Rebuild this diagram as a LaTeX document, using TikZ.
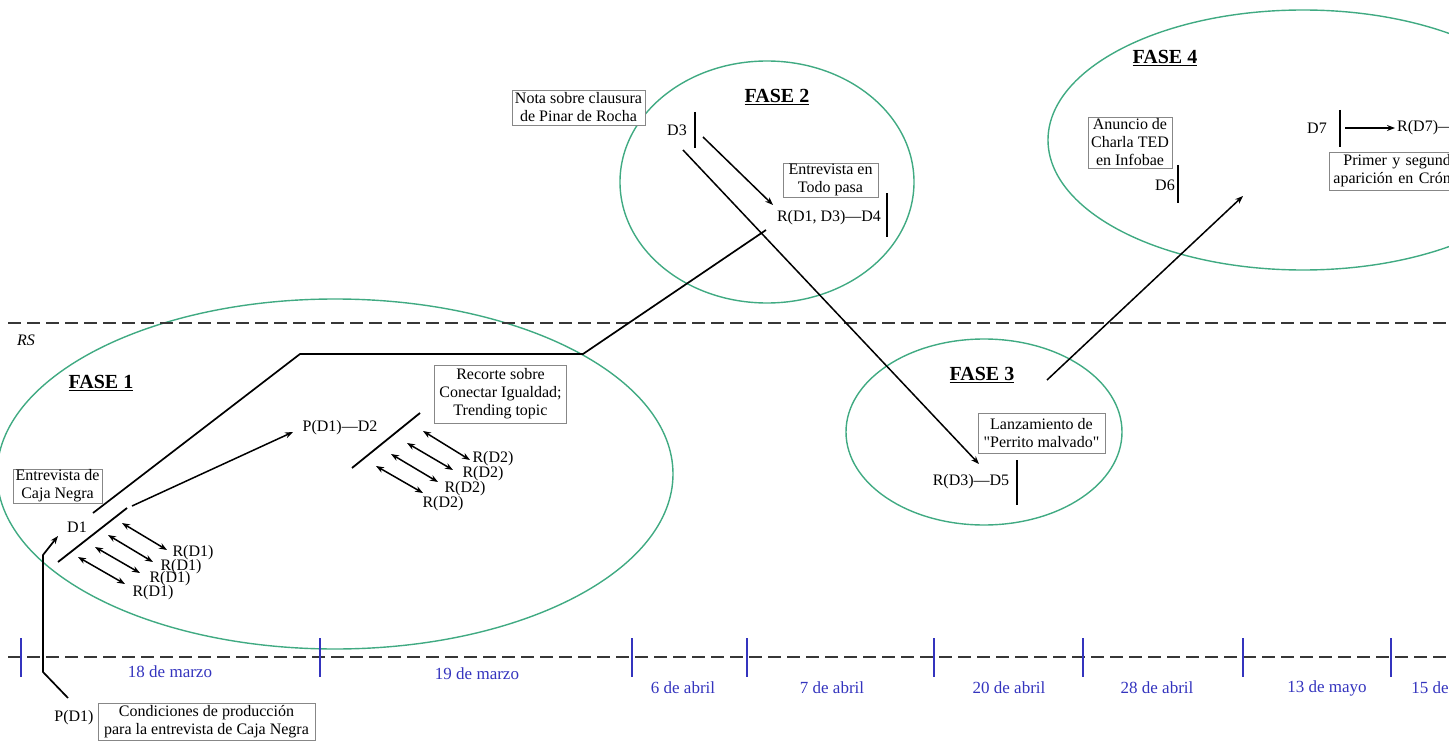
\documentclass[tikz,border=0pt]{standalone}
\usepackage{fontspec}
\setmainfont{Liberation Serif}[Ligatures=TeXOff]
\usetikzlibrary{shapes.geometric,arrows.meta}

\definecolor{faseGreen}{RGB}{64,170,130}
\definecolor{dateBlue}{RGB}{52,52,190}
\definecolor{boxGray}{RGB}{135,135,135}
\definecolor{axisGray}{RGB}{55,55,55}
\newcommand{\figfont}{\fontsize{16}{18}\selectfont}

\begin{document}
\begin{tikzpicture}
[x=1pt,y=-1pt,
  faseEllipse/.style={shape=ellipse,draw=faseGreen,line width=1.4pt,inner sep=0pt},%
  faseTitle/.style={inner sep=0pt,font=\bfseries\fontsize{20}{24}\selectfont},%
  textBox/.style={shape=rectangle,draw=boxGray,line width=0.9pt,fill=white,align=center,inner sep=0pt,font=\figfont},%
  plainLabel/.style={inner sep=0pt,font=\figfont},%
  dateLabel/.style={inner sep=0pt,text=dateBlue,font=\fontsize{17}{19}\selectfont},%
  axisDashed/.style={draw=axisGray,line width=1.8pt,dash pattern=on 13pt off 6pt},%
  tickMark/.style={draw=dateBlue,line width=1.6pt},%
  barDecorate/.style={-,line width=1.8pt},%
  lineDecorate/.style={-,line width=1.7pt},%
  arrowDecorate/.style={-{Stealth[length=8pt,width=6pt]},line width=1.5pt},%
  bothDecorate/.style={{Stealth[length=8pt,width=6pt]}-{Stealth[length=8pt,width=6pt]},line width=1.5pt}]
\useasboundingbox (0,0) rectangle (1449,741);
\clip (0,0) rectangle (1449,741);
%% phases
\node (faseOne) at (335,474) [faseEllipse,minimum width=676,minimum height=350] {};
\node (faseTwo) at (767,182) [faseEllipse,minimum width=294,minimum height=242] {};
\node (faseThree) at (984,432) [faseEllipse,minimum width=276,minimum height=186] {};
\node (faseFour) at (1303,140) [faseEllipse,minimum width=510,minimum height=260] {};
\foreach \nodename/\x/\y/\num in {titleOne/101/383/1, titleTwo/777/97/2,
  titleThree/982/375/3, titleFour/1165/58/4}
{
  \node (\nodename) at (\x,\y) [faseTitle] {\underline{FASE \num}};
}
%% time axis and RS line
\draw[axisDashed] (8,323) -- (1449,323);
\draw[axisDashed] (8,657) -- (1449,657);
\node (rs) at (26,340) [plainLabel] {\textit{RS}};
\foreach \x in {21,320,632,747,934,1083,1243,1391}
{
  \draw[tickMark] (\x,638) -- (\x,677);
}
\foreach \nodename/\x/\y/\txt in {dayA/170/672/18 de marzo, dayB/477/674/19 de marzo,
  dayC/683/688/6 de abril, dayD/832/688/7 de abril, dayE/1009/688/20 de abril,
  dayF/1157/688/28 de abril, dayG/1327/688/13 de mayo, dayH/1430/688/15 de}
{
  \node (\nodename) at (\x,\y) [dateLabel] {\txt};
}
%% boxes
\node (boxCaja) at (57.5,486) [textBox,minimum width=89,minimum height=34] {Entrevista de\\Caja Negra};
\node (boxRecorte) at (500.5,394) [textBox,minimum width=132,minimum height=58] {Recorte sobre\\Conectar Igualdad;\\Trending topic};
\node (boxNota) at (578.5,107.5) [textBox,minimum width=133,minimum height=35] {Nota sobre clausura\\de Pinar de Rocha};
\node (boxTodo) at (830.5,180) [textBox,minimum width=95,minimum height=34] {Entrevista en\\Todo pasa};
\node (boxPerrito) at (1041.5,433) [textBox,minimum width=127,minimum height=40] {Lanzamiento de\\"Perrito malvado"};
\node (boxAnuncio) at (1130,142.5) [textBox,minimum width=84,minimum height=51] {Anuncio de\\Charla TED\\en Infobae};
\node (boxPrimer) at (1329,171) [textBox,anchor=west,text width=190,minimum height=38,align=left,inner xsep=4pt] {\hspace*{10pt}Primer y segund\\aparición en Crón};
\node (boxCondiciones) at (206.5,721.5) [textBox,minimum width=217,minimum height=37] {Condiciones de producción\\para la entrevista de Caja Negra};
%% labels
\foreach \nodename/\x/\y/\txt in {done/77/527/D1,
  rdOne/193/553/R(D1), rdTwo/181/567/R(D1), rdThree/170/579/R(D1), rdFour/153/593/R(D1),
  pdd/340/428/P(D1)—D2,
  rtOne/493/459/R(D2), rtTwo/483/474/R(D2), rtThree/465/489/R(D2), rtFour/443/504/R(D2),
  dthree/677/130/D3, rdfive/971/482/R(D3)—D5, dsix/1165/185/D6, dseven/1317/128/D7,
  pdone/74/718/P(D1)}
{
  \node (\nodename) at (\x,\y) [plainLabel] {\txt};
}
\node (rdfour) at (829,218) [plainLabel] {R(D1, D3)—D4};
\node (rdseven) at (1397,128) [plainLabel,anchor=west] {R(D7)—};
%% coordinates for bars and connectors
\foreach \cname/\x/\y in {doneA/58/562, doneB/127/508,
  trunkA/93/513, trunkB/300/354, trunkC/583/354, trunkD/766/230,
  toPdA/132/506, toPdB/293/432,
  pdA/68/698, pdB/43/672, pdC/43/555, pdD/58/536,
  rdA1/122/523, rdB1/167/550, rdA2/108/535, rdB2/153/562,
  rdA3/95/547, rdB3/140/573, rdA4/78/557, rdB4/125/584,
  dtwoA/352/468, dtwoB/420/413,
  rtA1/423/431, rtB1/470/460, rtA2/407/443, rtB2/453/470,
  rtA3/391/454, rtB3/438/482, rtA4/376/466, rtB4/423/493,
  dthreeA/695/112, dthreeB/695/148, toDfA/703/137, toDfB/773/205,
  toDvA/683/150, toDvB/979/464, dfourA/887/193, dfourB/887/237,
  dfiveA/1017/460, dfiveB/1017/505, toFsA/1047/380, toFsB/1243/196,
  dsixA/1178/165, dsixB/1178/203, dsevenA/1340/110, dsevenB/1340/147,
  toRsA/1345/128, toRsB/1395/128}
{
  \coordinate (\cname) at (\x,\y);
}
%% bars
\path
\foreach \startnode/\endnode in {doneA/doneB, dtwoA/dtwoB, dthreeA/dthreeB,
  dfourA/dfourB, dfiveA/dfiveB, dsixA/dsixB, dsevenA/dsevenB}
{
  (\startnode) edge[barDecorate] (\endnode)
};
%% lines and arrows
\draw[lineDecorate] (trunkA) -- (trunkB) -- (trunkC) -- (trunkD);
\draw[lineDecorate,-{Stealth[length=8pt,width=6pt]}] (pdA) -- (pdB) -- (pdC) -- (pdD);
\path
\foreach \startnode/\endnode in {toPdA/toPdB, toDfA/toDfB, toDvA/toDvB,
  toFsA/toFsB, toRsA/toRsB}
{
  (\startnode) edge[arrowDecorate] (\endnode)
};
\path
\foreach \startnode/\endnode in {rdA1/rdB1, rdA2/rdB2, rdA3/rdB3, rdA4/rdB4,
  rtA1/rtB1, rtA2/rtB2, rtA3/rtB3, rtA4/rtB4}
{
  (\startnode) edge[bothDecorate] (\endnode)
};
\end{tikzpicture}
\end{document}
